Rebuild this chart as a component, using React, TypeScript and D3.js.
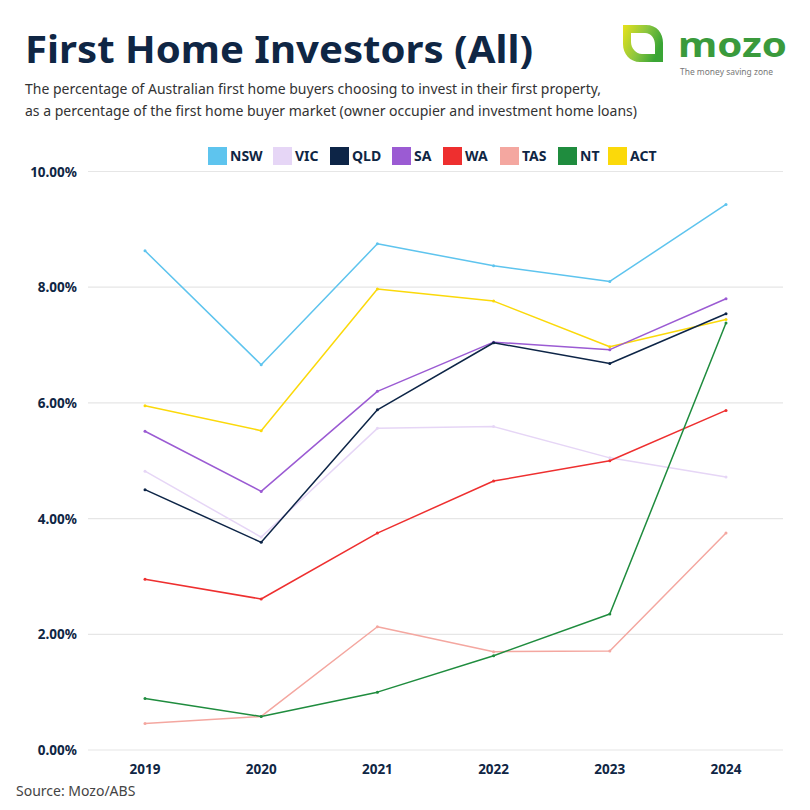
import React from "react";
import * as d3 from "d3";

const years = ["2019", "2020", "2021", "2022", "2023", "2024"];
const states = ["NSW", "VIC", "QLD", "SA", "WA", "TAS", "NT", "ACT"];
const colors = ["#5ec4ee", "#e6d6f6", "#0d2547", "#9b5bd3", "#ee2f2f", "#f4a7a0", "#1f8c3e", "#fbd90a"];
const nsw = [8.63, 6.66, 8.75, 8.37, 8.1, 9.43];
const vic = [4.82, 3.68, 5.56, 5.59, 5.05, 4.72];
const qld = [4.5, 3.59, 5.88, 7.04, 6.68, 7.54];
const sa = [5.51, 4.47, 6.2, 7.05, 6.92, 7.8];
const wa = [2.95, 2.61, 3.75, 4.65, 5.0, 5.87];
const tas = [0.46, 0.58, 2.13, 1.7, 1.71, 3.75];
const nt = [0.89, 0.58, 1.0, 1.63, 2.35, 7.38];
const act = [5.95, 5.52, 7.97, 7.76, 6.97, 7.44];
const seriesValues = [nsw, vic, qld, sa, wa, tas, nt, act];
const yTicks = [0, 2, 4, 6, 8, 10];
const drawOrder = [1, 5, 4, 6, 7, 3, 2, 0];

export default function App() {
  const x = d3.scalePoint<string>().domain(years).range([145, 726]);
  const y = d3.scaleLinear().domain([0, 10]).range([750, 171.5]);
  const line = d3
    .line<number>()
    .x((_, i) => x(years[i]) as number)
    .y((d) => y(d));
  const legendX = [208, 273, 330, 392, 443, 500, 558, 608];
  const font = "'Source Sans Pro', 'Noto Sans', sans-serif";
  return (
    <svg width={810} height={810} style={{ position: "absolute", left: 0, top: 0, background: "#fff" }} fontFamily={font}>
      <rect width={810} height={810} fill="#fff" />
      <text x={25} y={63} fontSize={37} fontWeight={700} fill="#0f2644" textLength={508} lengthAdjust="spacingAndGlyphs">
        First Home Investors (All)
      </text>
      <text x={25} y={94} fontSize={14.5} fill="#333" textLength={576} lengthAdjust="spacingAndGlyphs">
        The percentage of Australian first home buyers choosing to invest in their first property,
      </text>
      <text x={25} y={116} fontSize={14.5} fill="#333" textLength={612} lengthAdjust="spacingAndGlyphs">
        as a percentage of the first home buyer market (owner occupier and investment home loans)
      </text>
      {/* logo */}
      <defs>
        <linearGradient id="leafg" x1="0" y1="0" x2="1" y2="0.4">
          <stop offset="0" stopColor="#e8e21a" />
          <stop offset="0.55" stopColor="#8cc63f" />
          <stop offset="1" stopColor="#3aa535" />
        </linearGradient>
      </defs>
      <path
        d="M623,25 L646,25 C657,25 663,33 663,43 L663,62 L640,62 C630,62 623,54 623,44 Z M631,33 L631,42 C631,48 636,54 642,54 L655,54 L655,45 C655,38 651,33 645,33 Z"
        fill="url(#leafg)"
        fillRule="evenodd"
      />
      <text x={678} y={57} fontSize={34} fontWeight={700} fill="#3a9a3c" fontFamily="'Noto Sans', sans-serif" textLength={109} lengthAdjust="spacingAndGlyphs">
        mozo
      </text>
      <text x={680} y={75} fontSize={8} fill="#777" textLength={93} lengthAdjust="spacingAndGlyphs">
        The money saving zone
      </text>
      {/* legend */}
      {states.map((s, i) => (
        <g key={s}>
          <rect x={legendX[i]} y={147} width={19} height={18} fill={colors[i]} />
          <text x={legendX[i] + 22} y={161} fontSize={14} fontWeight={700} fill="#0f2644">
            {s}
          </text>
        </g>
      ))}
      {/* grid */}
      {yTicks.map((t) => (
        <g key={t}>
          <line x1={88} x2={783} y1={y(t)} y2={y(t)} stroke="#e6e6e6" strokeWidth={1.2} />
          <text x={77} y={y(t) + 5} fontSize={13.5} fontWeight={700} fill="#0f2644" textAnchor="end">
            {t.toFixed(2)}%
          </text>
        </g>
      ))}
      {years.map((yr) => (
        <text key={yr} x={x(yr)} y={774} fontSize={13.5} fontWeight={700} fill="#0f2644" textAnchor="middle">
          {yr}
        </text>
      ))}
      {/* lines */}
      {drawOrder.map((i) => (
        <g key={states[i]}>
          <path d={line(seriesValues[i]) as string} fill="none" stroke={colors[i]} strokeWidth={1.5} strokeLinejoin="round" />
          {seriesValues[i].map((v, j) => (
            <circle key={j} cx={x(years[j])} cy={y(v)} r={1.5} fill={colors[i]} />
          ))}
        </g>
      ))}
      <text x={16} y={796} fontSize={14} fill="#444">
        Source: Mozo/ABS
      </text>
    </svg>
  );
}
